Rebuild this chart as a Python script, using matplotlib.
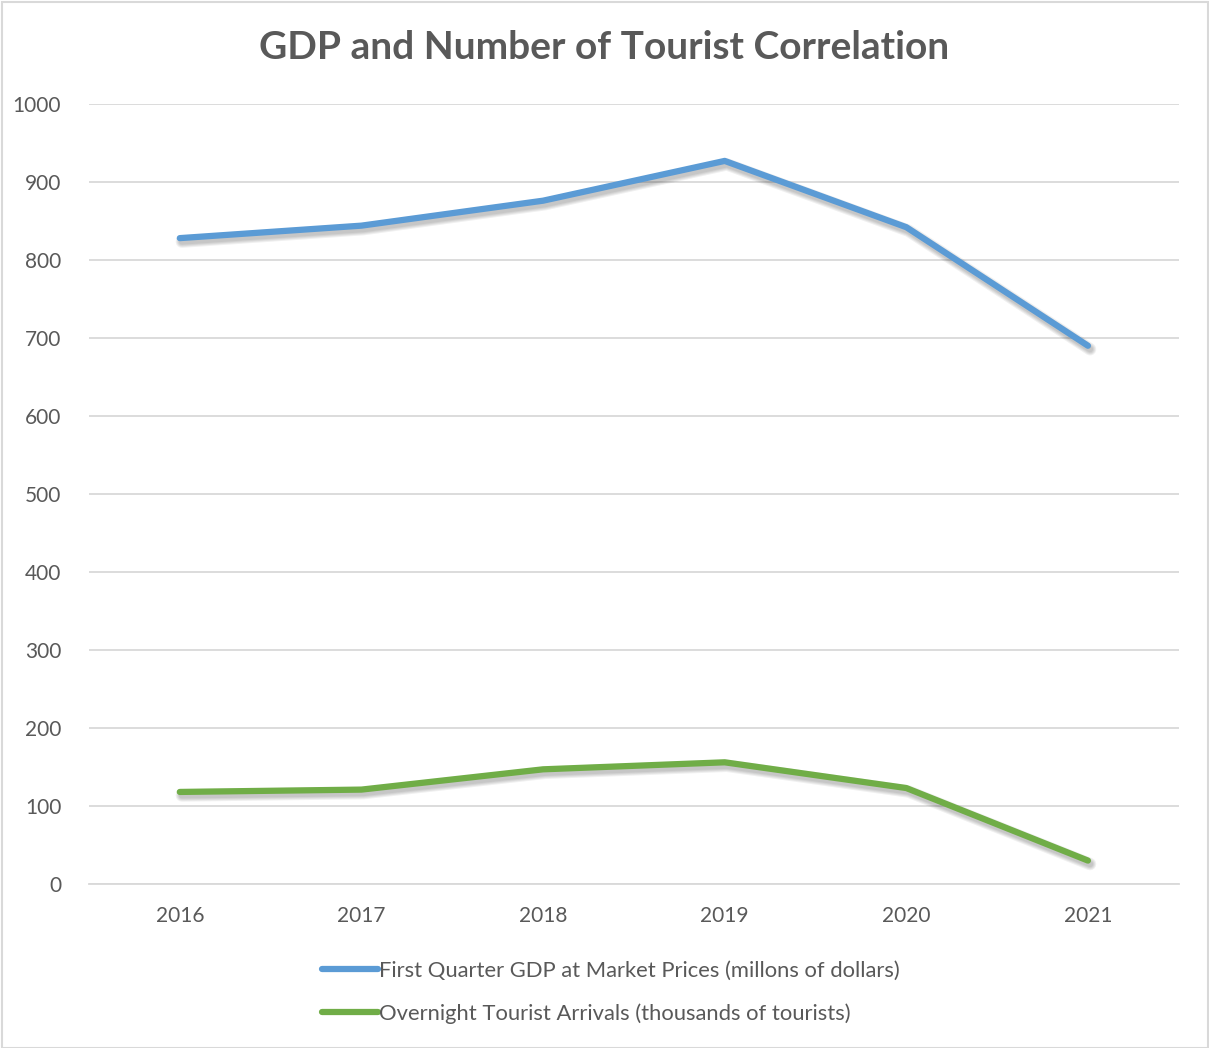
import matplotlib.pyplot as plt
import matplotlib.patheffects as pe

plt.rcParams['font.family'] = ['Lato', 'DejaVu Sans']

years = ['2016', '2017', '2018', '2019', '2020', '2021']
gdp = [828, 844, 876, 927, 842, 690]
tourists = [118, 121, 147, 156, 123, 30]
yticks = [0, 100, 200, 300, 400, 500, 600, 700, 800, 900, 1000]

fig = plt.figure(figsize=(12.09, 10.48), dpi=100)
ax = fig.add_axes([0.0736, 0.1565, 0.9014, 0.7443])

# soft shadow built from a few wide, faint copies
shadow = [pe.SimpleLineShadow(offset=(1.5, -2.5), alpha=0.06, shadow_color='black', linewidth=w)
          for w in (9, 7.5, 6, 4.5)]
shadow.append(pe.Normal())
x = range(len(years))
ax.plot(x, gdp, color='#5B9BD5', lw=4.5, solid_capstyle='round', path_effects=shadow,
        label='First Quarter GDP at Market Prices (millons of dollars)')
ax.plot(x, tourists, color='#70AD47', lw=4.5, solid_capstyle='round', path_effects=shadow,
        label='Overnight Tourist Arrivals (thousands of tourists)')

ax.set_xlim(-0.5, 5.5)
ax.set_ylim(0, 1000)
ax.set_xticks(list(x))
ax.set_xticklabels(years)
ax.set_yticks(yticks)
ax.grid(axis='y', color='#D9D9D9', lw=1.3)
ax.set_axisbelow(True)
for s in ['top', 'right', 'left']:
    ax.spines[s].set_visible(False)
ax.spines['bottom'].set_color('#D9D9D9')
ax.spines['bottom'].set_linewidth(1.3)
ax.tick_params(length=0, labelsize=15, colors='#595959')
ax.tick_params(axis='x', pad=16)
ax.tick_params(axis='y', pad=20)

fig.text(0.5, 0.955, 'GDP and Number of Tourist Correlation', ha='center', va='center',
         fontsize=28, fontweight='bold', color='#595959')

leg = fig.legend(loc='upper left', bbox_to_anchor=(0.259, 0.092), frameon=False,
                 fontsize=15.8, handlelength=2.55, handletextpad=0.05, labelspacing=1.05,
                 borderaxespad=0, labelcolor='#595959')
for h in leg.legend_handles:
    h.set_linewidth(4.5)
    h.set_path_effects([])

fig.patches.append(plt.Rectangle((0.002, 0.0), 0.997, 0.998, transform=fig.transFigure,
                                 fill=False, edgecolor='#D9D9D9', lw=1.5))

fig.savefig('out.png', dpi=100)
